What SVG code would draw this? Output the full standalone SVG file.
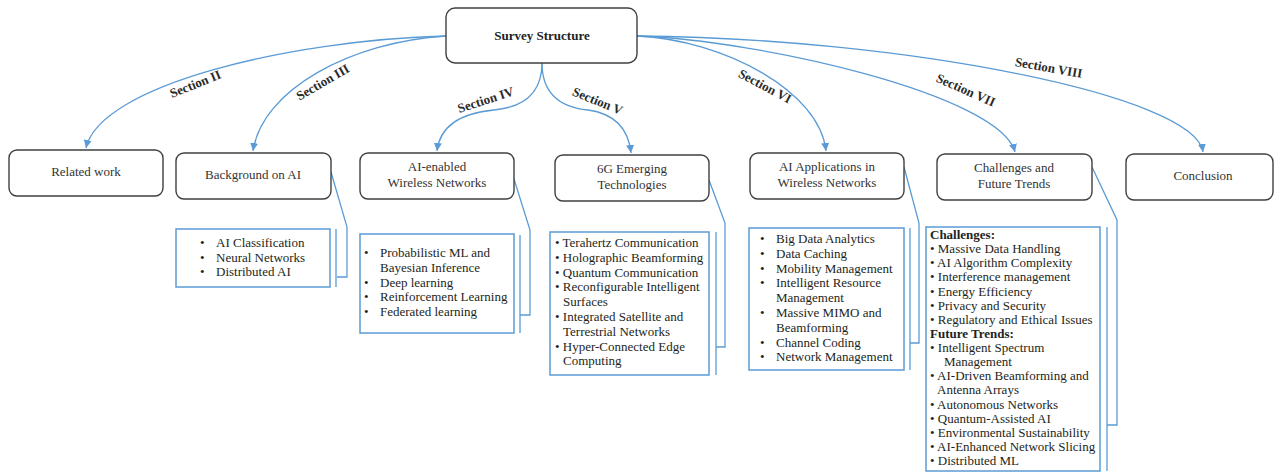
<svg xmlns="http://www.w3.org/2000/svg" width="1275" height="472" viewBox="0 0 1275 472">
  <style>
    .node { fill: #ffffff; stroke: #404040; stroke-width: 1.4; }
    .list { fill: #ffffff; stroke: #5b9bd5; stroke-width: 1.5; }
    .wire { fill: none; stroke: #5b9bd5; stroke-width: 1.3; }
    .title { font-family: "Liberation Serif", "Times New Roman", serif; font-size: 13px; fill: #333333; text-anchor: middle; }
    .root { font-family: "Liberation Serif", "Times New Roman", serif; font-size: 13px; font-weight: bold; fill: #222222; text-anchor: middle; }
    .sec { font-family: "Liberation Serif", "Times New Roman", serif; font-size: 13px; font-weight: bold; fill: #2a2a2a; text-anchor: middle; }
    .item { font-family: "Liberation Serif", "Times New Roman", serif; font-size: 13px; fill: #231f20; }
    .head { font-family: "Liberation Serif", "Times New Roman", serif; font-size: 13px; font-weight: bold; fill: #231f20; }
  </style>
  <defs>
    <marker id="arrow" viewBox="0 0 10 10" refX="10" refY="5" markerWidth="8" markerHeight="8" markerUnits="userSpaceOnUse" orient="auto">
      <path d="M0,0 L10,5 L0,10 z" fill="#5b9bd5"/>
    </marker>
  </defs>

  <rect width="1275" height="472" fill="#ffffff"/>

  <!-- connectors from the root to each section -->
  <g id="connectors">
    <path class="wire" marker-end="url(#arrow)" d="M446,36 C290,40 100,85 86,148"/>
    <path class="wire" marker-end="url(#arrow)" d="M446,36 C350,42 262,90 253,151"/>
    <path class="wire" marker-end="url(#arrow)" d="M542,63 C542,100 515,108 494,110 C462,113 440,125 437,151"/>
    <path class="wire" marker-end="url(#arrow)" d="M542,63 C542,100 568,108 588,110 C610,113 628,125 631,153"/>
    <path class="wire" marker-end="url(#arrow)" d="M637,36 C725,40 820,92 826,151"/>
    <path class="wire" marker-end="url(#arrow)" d="M637,36 C760,40 1000,95 1015,152"/>
    <path class="wire" marker-end="url(#arrow)" d="M637,36 C900,38 1195,95 1203,152"/>

    <!-- brackets tying each section to its topic list -->
    <polyline class="wire" points="331,172 347,227 347,277 337,277"/>
    <line class="wire" x1="336" y1="229" x2="336" y2="287"/>
    <polyline class="wire" points="514,179 530,230 530,315 520,315"/>
    <line class="wire" x1="520" y1="235" x2="520" y2="333"/>
    <polyline class="wire" points="709,180 725,223 725,347 716,347"/>
    <line class="wire" x1="716" y1="232" x2="716" y2="375"/>
    <polyline class="wire" points="904,167 919,223 919,343 910,343"/>
    <line class="wire" x1="910" y1="228" x2="910" y2="370"/>
    <polyline class="wire" points="1092,167 1117,220 1117,425 1107,425"/>
    <line class="wire" x1="1107" y1="227" x2="1107" y2="471"/>

    <text class="sec" transform="translate(197,88) rotate(-22)">Section II</text>
    <text class="sec" transform="translate(325,86) rotate(-30)">Section III</text>
    <text class="sec" transform="translate(487,104) rotate(-18)">Section IV</text>
    <text class="sec" transform="translate(596,105) rotate(22)">Section V</text>
    <text class="sec" transform="translate(763,90) rotate(28)">Section VI</text>
    <text class="sec" transform="translate(964,94) rotate(24)">Section VII</text>
    <text class="sec" transform="translate(1048,72) rotate(10)">Section VIII</text>
  </g>

  <g id="survey-structure">
    <rect class="node" x="446" y="8" width="191" height="55" rx="9"/>
    <text class="root" x="542" y="40">Survey Structure</text>
  </g>

  <g id="related-work">
    <rect class="node" x="9" y="150" width="154" height="46" rx="8"/>
    <text class="title" x="86" y="176">Related work</text>
  </g>

  <g id="background-ai">
    <rect class="node" x="176" y="153" width="155" height="46" rx="8"/>
    <text class="title" x="253" y="179">Background on AI</text>
  </g>

  <g id="background-ai-topics">
    <rect class="list" x="176" y="229" width="154" height="58"/>
    <text class="item" x="200" y="247">•</text><text class="item" x="216" y="247">AI Classification</text>
    <text class="item" x="200" y="262">•</text><text class="item" x="216" y="262">Neural Networks</text>
    <text class="item" x="200" y="276">•</text><text class="item" x="216" y="276">Distributed AI</text>
  </g>

  <g id="ai-enabled-networks">
    <rect class="node" x="360" y="153" width="154" height="46" rx="8"/>
    <text class="title" x="437" y="171">AI-enabled</text>
    <text class="title" x="437" y="187">Wireless Networks</text>
  </g>

  <g id="ai-enabled-topics">
    <rect class="list" x="360" y="234" width="154" height="99"/>
    <text class="item" x="364" y="257">•</text><text class="item" x="380" y="257">Probabilistic ML and</text>
    <text class="item" x="380" y="272">Bayesian Inference</text>
    <text class="item" x="364" y="286.5">•</text><text class="item" x="380" y="286.5">Deep learning</text>
    <text class="item" x="364" y="301">•</text><text class="item" x="380" y="301">Reinforcement Learning</text>
    <text class="item" x="364" y="316">•</text><text class="item" x="380" y="316">Federated learning</text>
  </g>

  <g id="emerging-6g">
    <rect class="node" x="555" y="155" width="154" height="46" rx="8"/>
    <text class="title" x="632" y="173">6G Emerging</text>
    <text class="title" x="632" y="189">Technologies</text>
  </g>

  <g id="emerging-6g-topics">
    <rect class="list" x="550" y="232" width="159" height="143"/>
    <text class="item" x="555" y="247">• Terahertz Communication</text>
    <text class="item" x="555" y="261.8">• Holographic Beamforming</text>
    <text class="item" x="555" y="276.6">• Quantum Communication</text>
    <text class="item" x="555" y="291.4">• Reconfigurable Intelligent</text>
    <text class="item" x="563" y="306.2">Surfaces</text>
    <text class="item" x="555" y="321">• Integrated Satellite and</text>
    <text class="item" x="563" y="335.8">Terrestrial Networks</text>
    <text class="item" x="555" y="350.6">• Hyper-Connected Edge</text>
    <text class="item" x="563" y="365.4">Computing</text>
  </g>

  <g id="ai-applications">
    <rect class="node" x="750" y="153" width="154" height="46" rx="8"/>
    <text class="title" x="827" y="171">AI Applications in</text>
    <text class="title" x="827" y="187">Wireless Networks</text>
  </g>

  <g id="ai-applications-topics">
    <rect class="list" x="749" y="228" width="155" height="142"/>
    <text class="item" x="760" y="243">•</text><text class="item" x="776" y="243">Big Data Analytics</text>
    <text class="item" x="760" y="257.8">•</text><text class="item" x="776" y="257.8">Data Caching</text>
    <text class="item" x="760" y="272.6">•</text><text class="item" x="776" y="272.6">Mobility Management</text>
    <text class="item" x="760" y="287.4">•</text><text class="item" x="776" y="287.4">Intelligent Resource</text>
    <text class="item" x="776" y="302.2">Management</text>
    <text class="item" x="760" y="317">•</text><text class="item" x="776" y="317">Massive MIMO and</text>
    <text class="item" x="776" y="331.8">Beamforming</text>
    <text class="item" x="760" y="346.6">•</text><text class="item" x="776" y="346.6">Channel Coding</text>
    <text class="item" x="760" y="361.4">•</text><text class="item" x="776" y="361.4">Network Management</text>
  </g>

  <g id="challenges-trends">
    <rect class="node" x="937" y="154" width="155" height="46" rx="8"/>
    <text class="title" x="1014" y="171.5">Challenges and</text>
    <text class="title" x="1014" y="187.5">Future Trends</text>
  </g>

  <g id="challenges-trends-topics">
    <rect class="list" x="926" y="227" width="174" height="244"/>
    <text class="head" x="930" y="239">Challenges:</text>
    <text class="item" x="930" y="253.1">• Massive Data Handling</text>
    <text class="item" x="930" y="267.3">• AI Algorithm Complexity</text>
    <text class="item" x="930" y="281.4">• Interference management</text>
    <text class="item" x="930" y="295.5">• Energy Efficiency</text>
    <text class="item" x="930" y="309.7">• Privacy and Security</text>
    <text class="item" x="930" y="323.8">• Regulatory and Ethical Issues</text>
    <text class="head" x="930" y="337.9">Future Trends:</text>
    <text class="item" x="930" y="352">• Intelligent Spectrum</text>
    <text class="item" x="944" y="366.2">Management</text>
    <text class="item" x="930" y="380.3">• AI-Driven Beamforming and</text>
    <text class="item" x="937" y="394.4">Antenna Arrays</text>
    <text class="item" x="930" y="408.6">• Autonomous Networks</text>
    <text class="item" x="930" y="422.7">• Quantum-Assisted AI</text>
    <text class="item" x="930" y="436.8">• Environmental Sustainability</text>
    <text class="item" x="930" y="451">• AI-Enhanced Network Slicing</text>
    <text class="item" x="930" y="465.1">• Distributed ML</text>
  </g>

  <g id="conclusion">
    <rect class="node" x="1126" y="154" width="147" height="46" rx="8"/>
    <text class="title" x="1203" y="180">Conclusion</text>
  </g>
</svg>
